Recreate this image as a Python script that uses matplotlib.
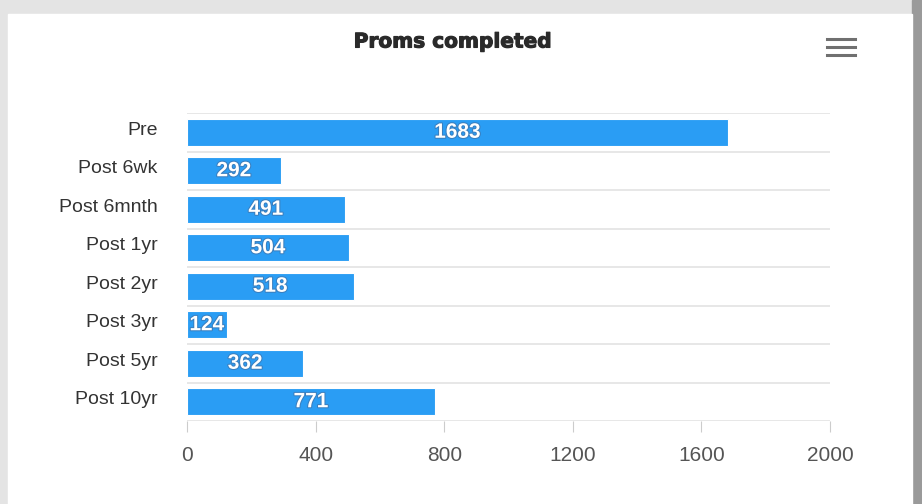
import matplotlib.pyplot as plt
from matplotlib.patches import Rectangle
import matplotlib.patheffects as pe
import matplotlib.transforms as mtransforms

categories = ["Pre", "Post 6wk", "Post 6mnth", "Post 1yr", "Post 2yr", "Post 3yr", "Post 5yr", "Post 10yr"]
values = [1683, 292, 491, 504, 518, 124, 362, 771]
xticks = [0, 400, 800, 1200, 1600, 2000]

plt.rcParams['font.family'] = ['Liberation Sans', 'DejaVu Sans']

W, H = 922, 504
fig = plt.figure(figsize=(W / 100, H / 100), dpi=100)
fig.patch.set_facecolor('#e4e4e4')

# window frame: shaded edges around a white card
fig.add_artist(Rectangle((912 / W, 0), 10 / W, 1, transform=fig.transFigure, color='#9a9a9a', zorder=-2))
fig.add_artist(Rectangle((8 / W, 0), 904 / W, 1 - 14 / H, transform=fig.transFigure,
                         color='white', zorder=-1))

ax = fig.add_axes([187 / W, 1 - 421 / H, 643 / W, 308 / H])
ax.set_facecolor('none')

pos = list(range(len(categories)))
bars = ax.barh(pos, values, height=0.70, color='#2a9df4', edgecolor='white', linewidth=0.8, zorder=3)

for b, v in zip(bars, values):
    ax.text(b.get_width() / 2, b.get_y() + b.get_height() / 2, str(v),
            ha='center', va='center', color='white', fontsize=15, fontweight='bold', zorder=4,
            path_effects=[pe.withStroke(linewidth=1.5, foreground='#3a7fbf')])

ax.set_xlim(0, 2000)
ax.set_ylim(len(categories) - 0.5, -0.5)
ax.set_yticks(pos)
ax.set_yticklabels(categories, fontsize=14, color='#333333')
ax.set_xticks(xticks)
ax.set_xticklabels([str(t) for t in xticks], fontsize=15, color='#555555')

# horizontal separators between categories
for yb in [p - 0.5 for p in pos] + [len(categories) - 0.5]:
    ax.axhline(yb, color='#e3e3e3', linewidth=1.2, zorder=1)

for s in ax.spines.values():
    s.set_visible(False)
ax.tick_params(axis='y', length=0, pad=21)
ax.tick_params(axis='x', length=8, color='#cccccc', pad=10)

# category labels sit slightly above the bar centres
shift = mtransforms.ScaledTranslation(0, 4 / 100, fig.dpi_scale_trans)
for lbl in ax.get_yticklabels():
    lbl.set_transform(lbl.get_transform() + shift)

fig.text(453 / W, 1 - 42 / H, "Proms completed", ha='center', va='center',
         fontsize=14.5, fontweight='bold', color='#2a2a2a', family='DejaVu Sans',
         path_effects=[pe.withStroke(linewidth=0.8, foreground='#2a2a2a')])

# menu icon
for yy in (39, 47, 55):
    fig.add_artist(plt.Line2D([827 / W, 855 / W], [1 - yy / H, 1 - yy / H],
                              transform=fig.transFigure, color='#707070', linewidth=2.2))

fig.savefig('out.png', dpi=100)
